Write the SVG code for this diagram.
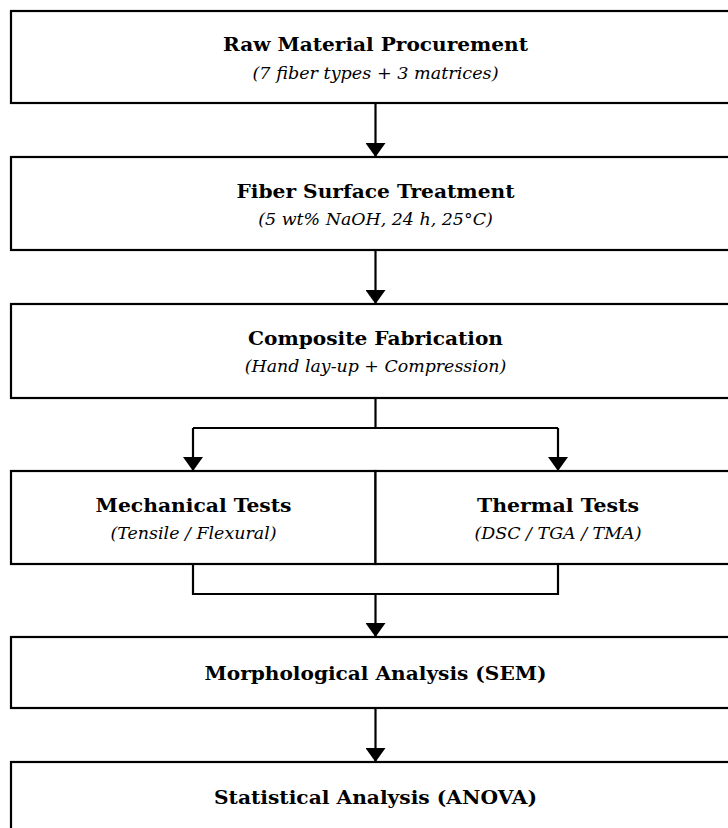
<svg xmlns="http://www.w3.org/2000/svg" width="728" height="828" viewBox="0 0 728 828">
<style>
.box{fill:#fff;stroke:#000;stroke-width:2.2}
.t{font-family:"DejaVu Serif",serif;font-weight:bold;font-size:19px;text-anchor:middle;fill:#000}
.s{font-family:"DejaVu Serif",serif;font-style:italic;font-size:16.5px;text-anchor:middle;fill:#000}
.c{fill:none;stroke:#000;stroke-width:2.2}
</style>
<defs>
<marker id="ah" markerUnits="userSpaceOnUse" markerWidth="14" markerHeight="20" refX="14" refY="10" orient="auto" viewBox="0 0 14 20">
<path d="M0,0 L14,10 L0,20 Z" fill="#000"/>
</marker>
</defs>
<rect width="728" height="828" fill="#fff"/>
<g id="connectors">
<path class="c" d="M375.5,103 V157" marker-end="url(#ah)"/>
<path class="c" d="M375.5,250 V304" marker-end="url(#ah)"/>
<path class="c" d="M375.5,398 V428"/>
<path class="c" d="M193,428 H558"/>
<path class="c" d="M193,428 V471" marker-end="url(#ah)"/>
<path class="c" d="M558,428 V471" marker-end="url(#ah)"/>
<path class="c" d="M193,564 V594 H558 V564"/>
<path class="c" d="M375.5,594 V637" marker-end="url(#ah)"/>
<path class="c" d="M375.5,708 V762" marker-end="url(#ah)"/>
</g>
<g id="raw">
<rect class="box" x="11" y="11" width="730" height="92"/>
<text class="t" x="375.5" y="51" textLength="305" lengthAdjust="spacingAndGlyphs">Raw Material Procurement</text>
<text class="s" x="375.5" y="78.5" textLength="246" lengthAdjust="spacingAndGlyphs">(7 fiber types + 3 matrices)</text>
</g>
<g id="treat">
<rect class="box" x="11" y="157" width="730" height="93"/>
<text class="t" x="375.5" y="197.5" textLength="278" lengthAdjust="spacingAndGlyphs">Fiber Surface Treatment</text>
<text class="s" x="375.5" y="224.5" textLength="234.5" lengthAdjust="spacingAndGlyphs">(5 wt% NaOH, 24 h, 25°C)</text>
</g>
<g id="fab">
<rect class="box" x="11" y="304" width="730" height="94"/>
<text class="t" x="375.5" y="344.5" textLength="255" lengthAdjust="spacingAndGlyphs">Composite Fabrication</text>
<text class="s" x="375.5" y="371.5" textLength="261.5" lengthAdjust="spacingAndGlyphs">(Hand lay-up + Compression)</text>
</g>
<g id="mech">
<rect class="box" x="11" y="471" width="364.5" height="93"/>
<text class="t" x="193.5" y="511.5" textLength="196" lengthAdjust="spacingAndGlyphs">Mechanical Tests</text>
<text class="s" x="193.5" y="538.5" textLength="166" lengthAdjust="spacingAndGlyphs">(Tensile / Flexural)</text>
</g>
<g id="therm">
<rect class="box" x="375.5" y="471" width="365.5" height="93"/>
<text class="t" x="558" y="511.5" textLength="162" lengthAdjust="spacingAndGlyphs">Thermal Tests</text>
<text class="s" x="558" y="538.5" textLength="167" lengthAdjust="spacingAndGlyphs">(DSC / TGA / TMA)</text>
</g>
<g id="sem">
<rect class="box" x="11" y="637" width="730" height="71"/>
<text class="t" x="375.5" y="679.5" textLength="342" lengthAdjust="spacingAndGlyphs">Morphological Analysis (SEM)</text>
</g>
<g id="anova">
<rect class="box" x="11" y="762" width="730" height="90"/>
<text class="t" x="375.5" y="804" textLength="323" lengthAdjust="spacingAndGlyphs">Statistical Analysis (ANOVA)</text>
</g>
</svg>
